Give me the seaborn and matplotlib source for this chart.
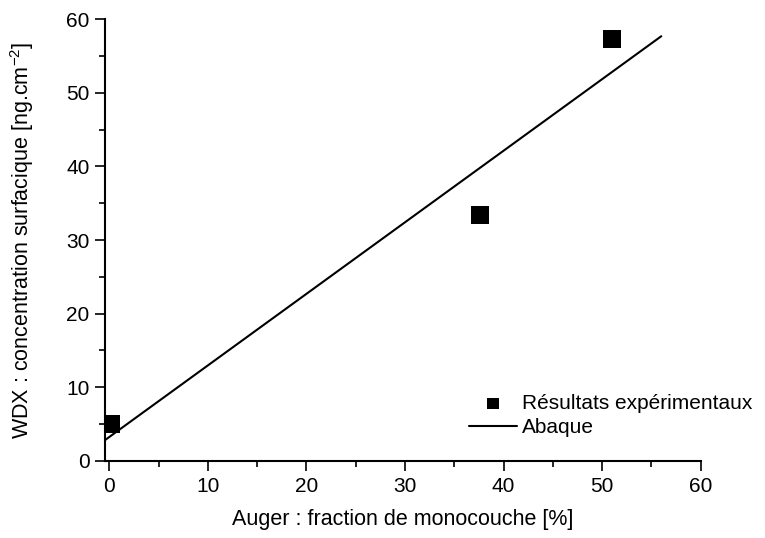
import matplotlib
matplotlib.use('Agg')
import matplotlib.pyplot as plt
import seaborn as sns
import pandas as pd
from matplotlib.ticker import MultipleLocator

# Données
auger_pts = [0.2, 37.6, 51.0]
wdx_pts = [5.0, 33.4, 57.3]
abaque_x = [-0.44, 56.0]
abaque_y = [2.8, 57.7]

sns.set_theme(style='ticks')
plt.rcParams['font.family'] = ['Liberation Sans', 'DejaVu Sans']
plt.rcParams['text.color'] = 'black'
plt.rcParams['axes.labelcolor'] = 'black'

df_pts = pd.DataFrame({'x': auger_pts, 'y': wdx_pts})
df_line = pd.DataFrame({'x': abaque_x, 'y': abaque_y})

W, H = 765, 538
fig = plt.figure(figsize=(W / 100, H / 100), dpi=100)
ax = fig.add_axes([105 / W, (H - 460.7) / H, (700.7 - 105) / W, (460.7 - 19.3) / H])

sns.scatterplot(data=df_pts, x='x', y='y', ax=ax, marker='s', s=170, color='black',
                edgecolor='none', label='Résultats expérimentaux', zorder=3)
sns.lineplot(data=df_line, x='x', y='y', ax=ax, color='black', linewidth=1.5, label='Abaque')

ax.set_xlim(-0.44, 60)
ax.set_ylim(0, 60)
ax.xaxis.set_major_locator(MultipleLocator(10))
ax.xaxis.set_minor_locator(MultipleLocator(5))
ax.yaxis.set_major_locator(MultipleLocator(10))
ax.yaxis.set_minor_locator(MultipleLocator(5))
ax.tick_params(which='major', direction='out', length=7, width=1.2, labelsize=15, colors='black')
ax.tick_params(axis='x', which='major', pad=5)
ax.tick_params(axis='y', which='major', pad=4)
ax.tick_params(which='minor', direction='out', length=4.3, width=1.2, colors='black')
for side in ['top', 'right']:
    ax.spines[side].set_visible(False)
for side in ['left', 'bottom']:
    ax.spines[side].set_linewidth(1.5)
    ax.spines[side].set_color('black')

ax.set_xlabel('Auger : fraction de monocouche [%]', fontsize=15.5, color='black')
ax.set_ylabel('WDX : concentration surfacique [ng.cm$^{\\mathregular{-2}}$]', fontsize=15.5, color='black')
ax.xaxis.set_label_coords(0.5, -0.11)
ax.yaxis.set_label_coords(-0.116, 0.5)

leg = ax.legend(loc='upper left', bbox_to_anchor=(469 / W, (H - 394) / H), bbox_transform=fig.transFigure,
                frameon=False, fontsize=15, borderpad=0, borderaxespad=0,
                handlelength=2.3, handletextpad=0.25, labelspacing=0.25, markerscale=0.65)
for t in leg.get_texts():
    t.set_color('black')

fig.savefig('out.png', dpi=100)
